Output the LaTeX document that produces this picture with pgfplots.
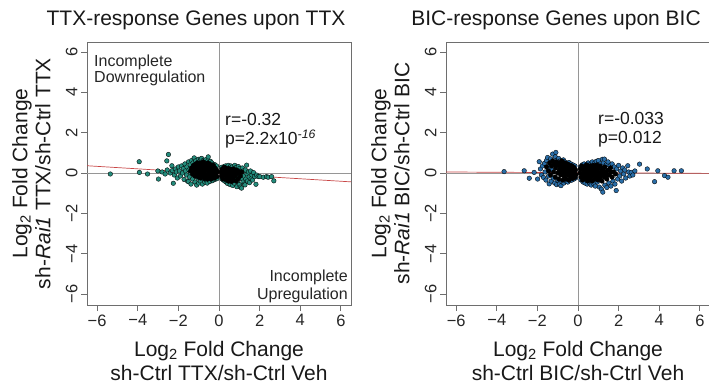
\documentclass[border=0pt]{standalone}
\usepackage{pgfplots}
\pgfplotsset{compat=1.18}
\usepackage{fontspec}
\setmainfont{Liberation Sans}
\definecolor{tealpt}{RGB}{36,140,124}
\definecolor{bluept}{RGB}{42,110,168}
\definecolor{regred}{RGB}{200,70,70}
\definecolor{frame}{RGB}{110,110,110}
\definecolor{zeroline}{RGB}{150,150,150}
\pgfplotsset{
 panel/.style={
  scale only axis, width=264pt, height=263pt,
  xmin=-6.5, xmax=6.5, ymin=-6.55, ymax=6.5,
  xtick={-6,-4,-2,0,2,4,6}, ytick={-6,-4,-2,0,2,4,6},
  xticklabels={−6,−4,−2,0,2,4,6}, yticklabels={−6,−4,−2,0,2,4,6},
  tick align=outside, major tick length=6pt,
  xtick pos=left, ytick pos=left,
  axis line style={draw=frame, line width=0.8pt},
  tick style={draw=frame, line width=0.8pt},
  ticklabel style={font=\fontsize{16.5}{18}\selectfont, text=black!85},
  yticklabel style={rotate=90, anchor=south},
  xlabel style={at={(rel axis cs:0.5,0)}, anchor=north, yshift=-36pt, inner sep=0pt, align=center, font=\fontsize{21}{24.5}\selectfont, text=black!90},
  ylabel style={at={(rel axis cs:0,0.5)}, anchor=north, yshift=75pt, inner sep=0pt, align=center, font=\fontsize{21}{23}\selectfont, text=black!90},
 },
 colpt/.style={only marks, mark=*, mark size=2.3pt, mark options={fill=#1, draw=black, line width=0.35pt}},
 blkpt/.style={only marks, mark=*, mark size=2.3pt, mark options={fill=black, draw=black, line width=0.35pt}},
}
\begin{document}
\begin{tikzpicture}
\useasboundingbox (0pt,0pt) rectangle (709pt,389pt);
% ---------------- left panel ----------------
\begin{axis}[panel, at={(87pt,84pt)}, anchor=south west,
  xlabel={Log\textsubscript{2} Fold Change\\sh-Ctrl TTX/sh-Ctrl Veh},
  ylabel={Log\textsubscript{2} Fold Change\\sh-\textit{Rai1} TTX/sh-Ctrl TTX}]
\addplot[zeroline, line width=0.8pt] coordinates {(-6.5,0) (6.5,0)};
\addplot[zeroline, line width=0.8pt] coordinates {(0,-6.55) (0,6.5)};
\addplot[colpt=tealpt] coordinates {
(-5.35,-0.05) (-3.93,0.56) (-3.92,0.03) (-3.52,-0.05) (-3.01,0.10) (-2.98,-0.30)
(-2.49,0.92) (-2.57,0.60) (-2.32,0.36) (-2.25,-0.51) (-2.80,0.05) (-2.65,-0.05)
(-2.55,0.15) (-2.40,0.00) (-2.30,0.12) (-2.20,-0.10) (-2.15,0.20) (-2.10,0.05)
(-2.05,-0.25) (-2.00,0.30) (-1.95,0.10) (-1.90,-0.15) (-1.85,0.35) (-1.80,0.00)
(-1.75,0.22) (-1.72,-0.32) (-1.68,0.45) (-1.65,0.10) (-1.60,-0.10) (-1.58,0.30)
(-1.55,-0.40) (-1.51,-0.43) (-1.50,0.55) (-1.48,0.15) (-1.45,-0.20) (-1.42,0.40)
(-1.40,0.02) (-1.38,-0.55) (-1.35,0.62) (-1.33,0.25) (-1.30,-0.30) (-1.28,0.50)
(-1.25,-0.08) (-1.22,0.75) (-1.20,0.35) (-1.18,-0.45) (-1.15,0.60) (-1.12,0.12)
(-1.10,-0.60) (-1.08,0.45) (-1.05,-0.25) (-1.02,0.68) (-1.00,-0.50) (-0.98,0.30)
(-0.95,0.58) (-0.92,-0.40) (-0.90,0.70) (-0.88,0.15) (-0.85,0.72) (-0.82,-0.55)
(-0.80,0.48) (-0.78,0.62) (-0.75,-0.30) (-0.72,0.55) (-0.70,-0.45) (-0.68,0.40)
(-0.65,0.66) (-0.62,-0.38) (-0.60,0.52) (-0.58,-0.50) (-0.55,0.60) (-0.53,0.80)
(-0.50,-0.35) (-0.48,0.45) (-0.45,-0.42) (-0.42,0.58) (-0.40,0.35) (-0.38,-0.30)
(-0.35,0.50) (-0.32,-0.38) (-0.30,0.40) (-0.28,0.20) (-0.25,-0.25) (-0.22,0.42)
(-0.20,-0.32) (-0.18,0.30) (-0.15,-0.20) (-0.12,0.35) (-0.10,-0.28)
(0.12,0.28) (0.15,-0.30) (0.18,0.20) (0.22,-0.35) (0.25,0.32) (0.28,-0.40)
(0.32,0.35) (0.35,-0.45) (0.40,0.30) (0.42,-0.52) (0.45,0.38) (0.48,-0.30)
(0.52,0.25) (0.55,-0.58) (0.58,0.35) (0.62,-0.45) (0.65,0.30) (0.68,-0.62)
(0.72,0.20) (0.75,-0.50) (0.78,0.38) (0.80,-0.35) (0.85,0.28) (0.88,-0.68)
(0.90,0.10) (0.92,-0.45) (0.95,0.32) (0.98,-0.20) (1.00,-0.58) (1.02,0.22)
(1.05,-0.70) (1.08,0.05) (1.11,-0.75) (1.12,-0.30) (1.15,0.25) (1.18,-0.45)
(1.20,0.10) (1.22,-0.15) (1.25,-0.55) (1.28,-0.59) (1.30,0.15) (1.32,-0.30)
(1.36,0.39) (1.38,-0.05) (1.40,-0.40) (1.45,0.05) (1.48,-0.20) (1.50,-0.48)
(1.55,0.10) (1.58,-0.28) (1.62,-0.10) (1.65,-0.35) (1.70,0.02) (1.75,-0.18)
(1.82,-0.56) (1.85,-0.10) (1.93,-0.18) (2.01,-0.18) (2.18,-0.21) (2.34,-0.18)
(2.42,-0.21) (2.59,-0.18) (2.70,-0.39)
};
\addplot[blkpt] coordinates {
(-1.40,0.10) (-1.35,0.25) (-1.30,-0.05) (-1.25,0.38) (-1.22,0.15) (-1.18,-0.15)
(-1.15,0.45) (-1.12,0.28) (-1.10,0.00) (-1.05,0.50) (-1.05,0.15) (-1.02,-0.20)
(-1.00,0.35) (-0.98,-0.05) (-0.95,0.22) (-0.92,0.48) (-0.90,-0.25) (-0.88,0.05)
(-0.85,0.35) (-0.82,0.18) (-0.80,-0.12) (-0.78,0.55) (-0.75,0.40) (-0.75,0.00)
(-0.72,0.25) (-0.70,-0.28) (-0.68,0.10) (-0.65,0.45) (-0.62,-0.10) (-0.60,0.30)
(-0.58,0.15) (-0.55,-0.30) (-0.55,0.50) (-0.52,0.00) (-0.50,0.35) (-0.48,-0.18)
(-0.45,0.20) (-0.42,0.42) (-0.40,-0.05) (-0.38,-0.30) (-0.36,0.28) (-0.33,0.10)
(-0.30,-0.20) (-0.28,0.38) (-0.25,0.00) (-0.22,-0.25) (-0.20,0.25) (-0.18,0.08)
(-0.15,-0.10) (-0.12,0.15) (-0.10,-0.18) (-0.08,0.05) (-0.50,0.08) (-0.65,-0.15)
(-0.85,-0.05) (-0.35,-0.12) (-0.25,0.20)
(0.10,0.05) (0.12,-0.15) (0.15,0.18) (0.18,-0.28) (0.20,0.00) (0.22,0.22)
(0.25,-0.12) (0.28,0.10) (0.30,-0.32) (0.32,0.25) (0.35,-0.05) (0.38,0.15)
(0.40,-0.25) (0.42,0.05) (0.45,-0.40) (0.48,0.22) (0.50,-0.15) (0.52,0.08)
(0.55,-0.30) (0.58,0.18) (0.60,-0.05) (0.62,-0.42) (0.65,0.10) (0.68,-0.20)
(0.70,0.20) (0.72,-0.35) (0.75,0.00) (0.80,-0.15) (0.82,0.15) (0.85,-0.40)
(0.88,-0.02) (0.92,0.12) (0.95,-0.28) (1.00,0.00) (1.05,-0.15) (1.12,0.05)
(0.30,0.00) (0.45,-0.15) (0.25,0.28)
};
\addplot[regred, line width=0.7pt] coordinates {(-6.5,0.36) (6.5,-0.44)};
\end{axis}
% ---------------- right panel ----------------
\begin{axis}[panel, at={(446pt,84pt)}, anchor=south west,
  xlabel={Log\textsubscript{2} Fold Change\\sh-Ctrl BIC/sh-Ctrl Veh},
  ylabel={Log\textsubscript{2} Fold Change\\sh-\textit{Rai1} BIC/sh-Ctrl BIC}]
\addplot[zeroline, line width=0.8pt] coordinates {(-6.5,0) (6.5,0)};
\addplot[zeroline, line width=0.8pt] coordinates {(0,-6.55) (0,6.5)};
\addplot[colpt=bluept] coordinates {
(-3.64,0.07) (-2.65,0.11) (-2.40,-0.26) (-2.16,0.03) (-1.99,-0.30) (-1.91,0.56)
(-1.85,0.20) (-1.80,-0.10) (-1.75,0.35) (-1.70,-0.22) (-1.65,0.48) (-1.62,0.05)
(-1.58,-0.35) (-1.55,0.62) (-1.50,0.77) (-1.48,0.25) (-1.45,-0.15) (-1.42,-0.54)
(-1.40,0.40) (-1.35,0.70) (-1.32,-0.40) (-1.30,0.15) (-1.25,0.94) (-1.22,-0.25)
(-1.20,0.55) (-1.15,-0.50) (-1.12,0.80) (-1.09,1.02) (-1.05,-0.58) (-1.02,0.65)
(-1.00,-0.35) (-0.95,0.72) (-0.92,-0.55) (-0.88,0.60) (-0.84,-0.63) (-0.80,0.50)
(-0.78,-0.45) (-0.72,0.65) (-0.70,-0.50) (-0.65,0.55) (-0.60,-0.40) (-0.55,0.48)
(-0.50,-0.45) (-0.45,0.52) (-0.40,-0.38) (-0.35,0.45) (-0.30,-0.35) (-0.25,0.40)
(-0.20,-0.30) (-0.15,0.35) (-0.12,-0.25)
(0.12,0.30) (0.15,-0.35) (0.20,0.40) (0.25,-0.45) (0.30,0.45) (0.35,-0.50)
(0.40,0.38) (0.45,-0.55) (0.50,0.50) (0.55,-0.48) (0.60,0.42) (0.65,-0.60)
(0.70,0.55) (0.75,-0.52) (0.80,0.48) (0.85,-0.65) (0.90,0.58) (0.95,-0.45)
(1.00,0.62) (1.05,-0.70) (1.10,0.45) (1.15,-0.80) (1.20,0.68) (1.22,-0.95)
(1.25,0.50) (1.30,0.69) (1.32,-0.60) (1.38,0.40) (1.42,-0.72) (1.48,0.55)
(1.52,-0.50) (1.58,0.35) (1.62,-0.65) (1.68,0.45) (1.72,-0.40) (1.78,0.30)
(1.82,-0.55) (1.88,-0.87) (1.90,0.20) (1.95,-0.30) (2.00,0.38) (2.05,-0.15)
(2.10,0.10) (2.15,-0.40) (2.20,0.25) (2.25,-0.05) (2.30,0.15) (2.35,-0.25)
(2.45,0.36) (2.50,0.05) (2.55,-0.15) (2.62,0.03) (2.70,-0.10) (2.80,0.10)
(3.03,0.44) (3.41,0.20) (3.77,-0.43) (3.93,0.11) (4.26,-0.13) (4.43,-0.21)
(4.73,0.11) (5.09,0.11)
};
\addplot[blkpt] coordinates {
(-1.55,0.30) (-1.45,0.10) (-1.40,0.50) (-1.35,-0.10) (-1.30,0.35) (-1.25,0.60)
(-1.20,0.05) (-1.18,0.42) (-1.12,-0.20) (-1.10,0.25) (-1.05,0.55) (-1.00,0.00)
(-0.98,0.38) (-0.95,-0.30) (-0.92,0.15) (-0.90,0.50) (-0.85,-0.10) (-0.82,0.30)
(-0.80,0.60) (-0.78,0.05) (-0.75,-0.35) (-0.72,0.42) (-0.70,0.18) (-0.68,-0.15)
(-0.65,0.50) (-0.62,0.00) (-0.60,0.30) (-0.58,-0.30) (-0.55,0.15) (-0.52,0.45)
(-0.50,-0.10) (-0.48,0.25) (-0.45,-0.35) (-0.42,0.05) (-0.40,0.38) (-0.38,-0.20)
(-0.35,0.20) (-0.32,-0.05) (-0.30,0.35) (-0.28,-0.28) (-0.25,0.10) (-0.22,-0.15)
(-0.20,0.28) (-0.18,0.00) (-0.15,-0.22) (-0.12,0.15) (-0.10,-0.08) (-0.60,-0.05)
(-0.85,0.20) (-0.40,0.10) (-0.70,0.30) (-0.50,0.20) (-0.90,0.35) (-0.30,0.00)
(-1.10,0.40) (-0.95,0.05) (-0.75,-0.10)
(0.10,0.00) (0.12,0.20) (0.15,-0.20) (0.18,0.35) (0.20,-0.05) (0.22,-0.35)
(0.25,0.15) (0.28,-0.15) (0.30,0.30) (0.32,0.00) (0.35,-0.30) (0.38,0.20)
(0.40,-0.10) (0.42,0.40) (0.45,0.05) (0.48,-0.40) (0.50,0.25) (0.52,-0.15)
(0.55,0.10) (0.58,-0.30) (0.60,0.35) (0.62,0.00) (0.65,-0.20) (0.68,0.20)
(0.70,-0.40) (0.72,0.05) (0.75,0.38) (0.78,-0.10) (0.80,0.15) (0.82,-0.30)
(0.85,0.28) (0.88,0.00) (0.90,-0.20) (0.92,0.40) (0.95,0.10) (0.98,-0.35)
(1.00,0.22) (1.05,-0.05) (1.08,0.35) (1.10,-0.25) (1.15,0.10) (1.18,-0.40)
(1.20,0.25) (1.25,0.00) (1.30,-0.20) (1.32,0.30) (1.38,0.05) (1.42,-0.30)
(1.48,0.15) (1.55,-0.10) (1.60,0.25) (1.68,-0.20) (1.75,0.05) (1.85,-0.05)
(0.35,0.15) (0.55,-0.05) (0.65,0.25) (0.45,-0.25)
(0.30,0.12) (0.50,0.00) (0.70,-0.08) (0.90,0.05) (1.10,0.00) (1.25,0.15)
(1.40,-0.12) (0.85,-0.08) (1.00,-0.12) (0.60,0.15) (1.60,0.05) (0.40,0.25)
(0.75,0.22) (1.20,-0.10)
};
\addplot[regred, line width=0.7pt] coordinates {(-6.5,0.05) (6.5,-0.02)};
\end{axis}
% ---------------- titles and annotations ----------------
\node[anchor=base, font=\fontsize{21}{24}\selectfont, text=black!90] at (196pt,363pt) {TTX-response Genes upon TTX};
\node[anchor=base, font=\fontsize{21}{24}\selectfont, text=black!90] at (556pt,363pt) {BIC-response Genes upon BIC};
\node[anchor=north west, align=left, inner sep=0pt, font=\fontsize{16}{16}\selectfont, text=black!85] at (94pt,334pt) {Incomplete\\Downregulation};
\node[anchor=south east, align=right, inner sep=0pt, font=\fontsize{16}{18}\selectfont, text=black!85] at (348pt,86pt) {Incomplete\\Upregulation};
\node[anchor=base west, inner sep=0pt, font=\fontsize{17.5}{20}\selectfont, text=black!90] at (225pt,264pt) {r=-0.32};
\node[anchor=base west, inner sep=0pt, font=\fontsize{17.5}{20}\selectfont, text=black!90] at (225pt,244pt) {p=2.2x10\textsuperscript{\textit{-16}}};
\node[anchor=base west, inner sep=0pt, font=\fontsize{17.5}{20}\selectfont, text=black!90] at (598pt,265pt) {r=-0.033};
\node[anchor=base west, inner sep=0pt, font=\fontsize{17.5}{20}\selectfont, text=black!90] at (598pt,246pt) {p=0.012};
\end{tikzpicture}
\end{document}
